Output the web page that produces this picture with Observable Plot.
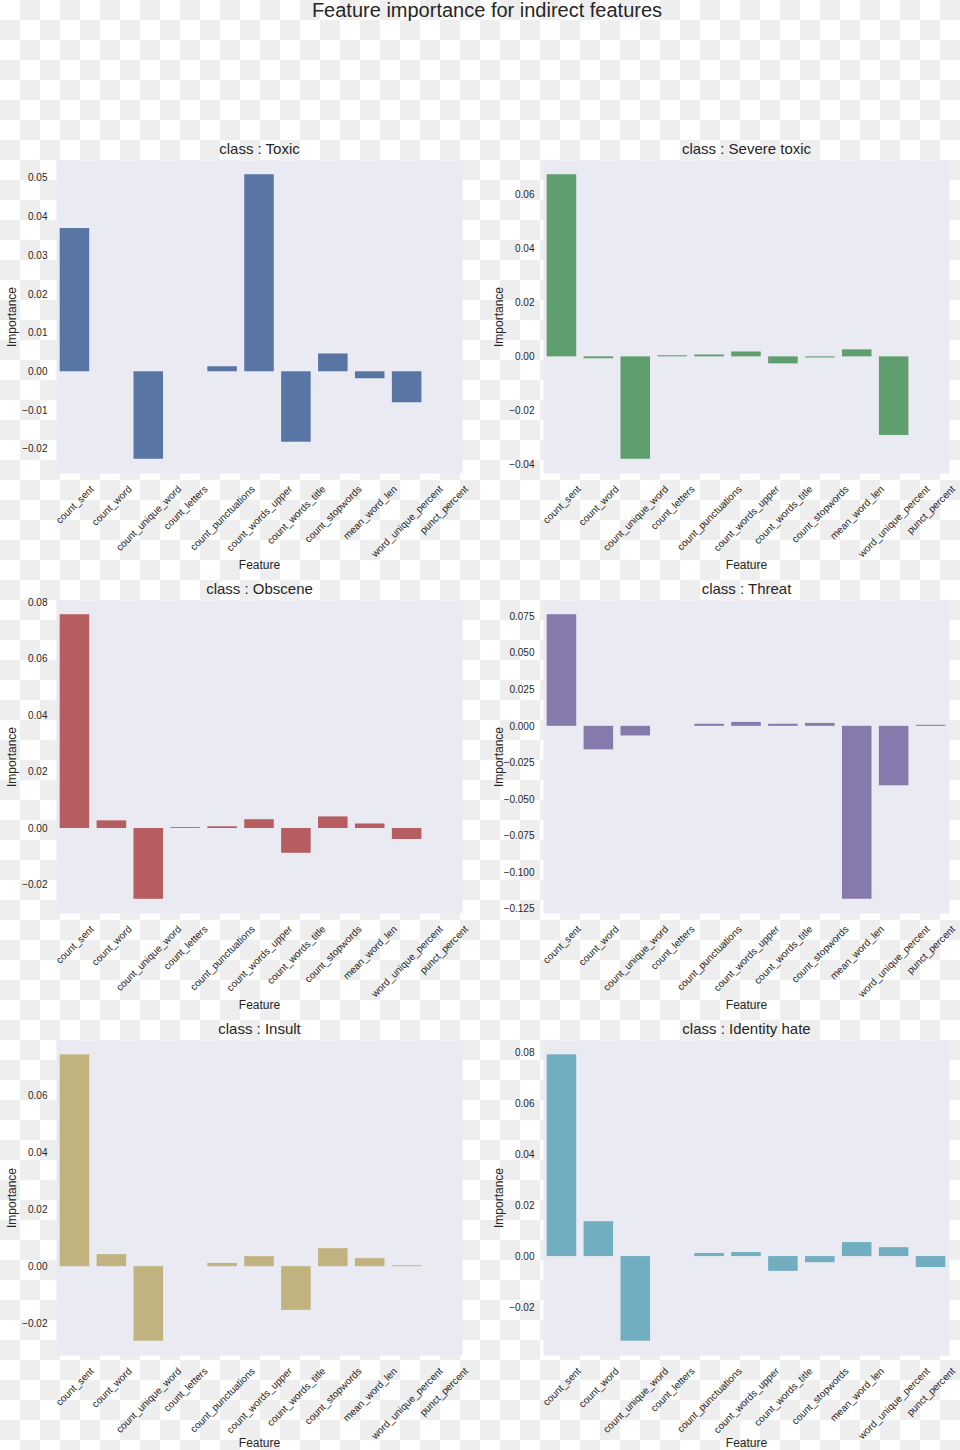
<!DOCTYPE html>
<html>
<head>
<meta charset="utf-8">
<script src="https://cdn.jsdelivr.net/npm/d3@7"></script>
<script src="https://cdn.jsdelivr.net/npm/@observablehq/plot@0.6"></script>
<style>
html, body { margin: 0; padding: 0; overflow: hidden; }
#fig {
  position: relative; width: 960px; height: 1450px; overflow: hidden;
  background: repeating-conic-gradient(#eeeeee 0% 25%, #ffffff 0% 50%) 0 0 / 40px 40px;
  font-family: "Liberation Sans", Arial, sans-serif; color: #262626;
}
#title { position: absolute; left: 0; top: 0; width: 974px; text-align: center; font-size: 20px; line-height: 20px; }
.panel { position: absolute; }
</style>
</head>
<body>
<div id="fig"><div id="title">Feature importance for indirect features</div></div>
<script>
const features = ["count_sent", "count_word", "count_unique_word", "count_letters", "count_punctuations",
  "count_words_upper", "count_words_title", "count_stopwords", "mean_word_len", "word_unique_percent", "punct_percent"];

const toxicValues       = [0.0370, 0.0000, -0.0226, 0.0000, 0.0013, 0.0509, -0.0182, 0.0046, -0.0018, -0.0080, 0.0000];
const severeToxicValues = [0.0674, -0.0007, -0.0379, 0.0004, 0.0007, 0.0018, -0.0026, -0.0004, 0.0026, -0.0291, 0.0000];
const obsceneValues     = [0.0758, 0.0027, -0.0251, 0.0003, 0.0006, 0.0031, -0.0088, 0.0041, 0.0016, -0.0039, 0.0000];
const threatValues      = [0.0764, -0.0161, -0.0066, 0.0000, 0.0014, 0.0027, 0.0014, 0.0020, -0.1184, -0.0407, 0.0007];
const insultValues      = [0.0742, 0.0042, -0.0261, 0.0000, 0.0011, 0.0035, -0.0153, 0.0063, 0.0028, 0.0003, 0.0000];
const identityHateValues= [0.0792, 0.0137, -0.0332, 0.0000, 0.0012, 0.0016, -0.0058, -0.0024, 0.0055, 0.0035, -0.0043];

const toxicTicks        = [-0.02, -0.01, 0, 0.01, 0.02, 0.03, 0.04, 0.05];
const severeToxicTicks  = [-0.04, -0.02, 0, 0.02, 0.04, 0.06];
const obsceneTicks      = [-0.02, 0, 0.02, 0.04, 0.06, 0.08];
const threatTicks       = [-0.125, -0.1, -0.075, -0.05, -0.025, 0, 0.025, 0.05, 0.075];
const insultTicks       = [-0.02, 0, 0.02, 0.04, 0.06];
const identityHateTicks = [-0.02, 0, 0.02, 0.04, 0.06, 0.08];

const classTitles = ["class : Toxic", "class : Severe toxic", "class : Obscene", "class : Threat", "class : Insult", "class : Identity hate"];
const colors = ["#5975a4", "#5f9e6e", "#b55d60", "#857aab", "#c1b37f", "#71aec0"];
const tickFormats = [".2f", ".2f", ".2f", ".3f", ".2f", ".2f"];
const seriesList = [toxicValues, severeToxicValues, obsceneValues, threatValues, insultValues, identityHateValues];
const tickList = [toxicTicks, severeToxicTicks, obsceneTicks, threatTicks, insultTicks, identityHateTicks];

// layout
const rowTops = [160, 600, 1040];
const rowHeights = [313, 313, 315];
const featureLabelOffset = [92, 92, 88];
const colLeft = [{ml: 56, mr: 18}, {ml: 63, mr: 11}];
const MT = 30, MB = 100;

const ctx = document.createElement("canvas").getContext("2d");
ctx.font = '10px "Liberation Sans"';
const measure = s => ctx.measureText(s).width;
const FONT = '"Liberation Sans", Arial, sans-serif';

const fig = document.getElementById("fig");

seriesList.forEach((vals, k) => {
  const row = Math.floor(k / 2), col = k % 2;
  const data = features.map((f, i) => ({feature: f, value: vals[i]}));
  const lo = Math.min(0, d3.min(vals)), hi = Math.max(0, d3.max(vals));
  const pad = (hi - lo) * 0.05;
  const {ml, mr} = colLeft[col];
  const chart = Plot.plot({
    width: 480,
    height: MT + rowHeights[row] + MB,
    marginLeft: ml, marginRight: mr, marginTop: MT, marginBottom: MB,
    style: {fontFamily: FONT, fontSize: "10px", color: "#262626", background: "none", overflow: "visible"},
    x: {type: "band", domain: features, paddingInner: 0.2, paddingOuter: 0.1, round: false, axis: null},
    y: {domain: [lo - pad, hi + pad]},
    marks: [
      Plot.frame({fill: "#EAEAF2", stroke: null}),
      Plot.barY(data, {x: "feature", y1: 0, y2: "value", fill: colors[k]}),
      Plot.axisY({ticks: tickList[k], tickFormat: d3.format(tickFormats[k]), tickSize: 0, tickPadding: 9, label: null, fill: "#262626"}),
      ...features.map(f => Plot.text([f], {
        x: d => d, text: d => d, frameAnchor: "bottom", lineAnchor: "middle", textAnchor: "end",
        rotate: -45, dx: measure(f) * 0.3536, dy: 14, fontSize: 10, fill: "#262626"
      })),
      Plot.text(["Feature"], {text: d => d, frameAnchor: "bottom", lineAnchor: "middle", textAnchor: "middle", dy: featureLabelOffset[row], fontSize: 12, fill: "#262626"}),
      Plot.text(["Importance"], {text: d => d, frameAnchor: "left", lineAnchor: "middle", textAnchor: "middle", rotate: -90, dx: -44, fontSize: 12, fill: "#262626"}),
      Plot.text([classTitles[k]], {text: d => d, frameAnchor: "top", lineAnchor: "middle", textAnchor: "middle", dy: -11, fontSize: 15, fill: "#262626"})
    ]
  });
  const wrap = document.createElement("div");
  wrap.className = "panel";
  wrap.style.left = (col * 480) + "px";
  wrap.style.top = (rowTops[row] - MT) + "px";
  wrap.appendChild(chart);
  fig.appendChild(wrap);
});
</script>
</body>
</html>
